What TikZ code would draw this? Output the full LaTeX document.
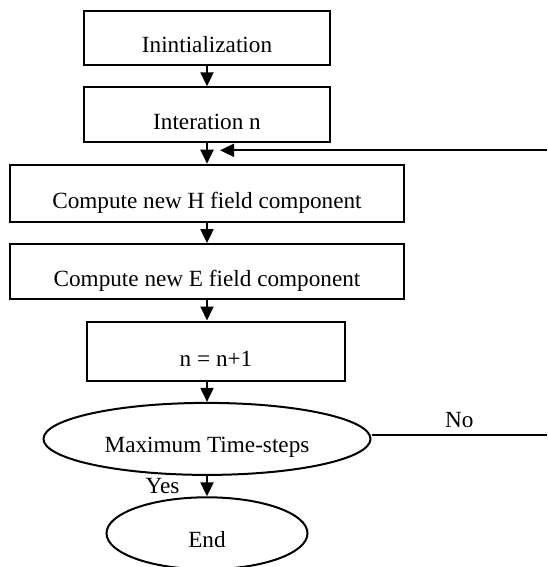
\documentclass[tikz,border=0pt]{standalone}
\usepackage{fontspec}
\setmainfont{Liberation Serif}
\usetikzlibrary{matrix,arrows.meta,shapes.geometric}

\begin{document}
\begin{tikzpicture}[x=0.5pt, y=-0.5pt, font=\fontsize{11.6}{14}\selectfont,
  blk/.style={draw, line width=1pt, rectangle, inner sep=0pt, text height=16.5pt, text depth=1.5pt},
  term/.style={draw, line width=1pt, ellipse, inner sep=0pt, text height=16pt, text depth=2pt},
  flow/.style={-{Triangle[length=7pt,width=6.5pt]}, line width=1pt}]
  \useasboundingbox (0,0) rectangle (547,567);
  \matrix (m) at (207,9.5) [matrix of nodes, anchor=north, inner sep=0pt, row sep=10.2pt]
  {
    |[blk, minimum width=123pt, minimum height=27pt]| Inintialization \\
    |[blk, minimum width=123pt, minimum height=27.5pt]| Interation n \\
    |[blk, minimum width=196.5pt, minimum height=28.5pt]| Compute new H field component \\
    |[blk, minimum width=196.5pt, minimum height=27.5pt]| Compute new E field component \\
    |[blk, minimum width=128.5pt, minimum height=29.5pt, xshift=4.5pt]| n = n+1 \\
    |[term, minimum width=163.5pt, minimum height=36pt]| Maximum Time-steps \\
    |[term, minimum width=100.5pt, minimum height=36pt]| End \\
  };
  \coordinate (edge) at (547,0);
  \coordinate (join) at ([xshift=6.5pt,yshift=-3.5pt]m-2-1.south);
  \path[flow]
  (m-1-1) edge (m-2-1)
  (m-2-1) edge (m-3-1)
  (m-3-1) edge (m-4-1)
  (m-4-1.south) edge (m-4-1.south |- m-5-1.north)
  (m-5-1.south -| m-6-1) edge (m-6-1)
  (m-6-1) edge node [left=10pt] {Yes} (m-7-1)
  ;
  \draw[flow] (join -| edge) -- (join);
  \draw[line width=1pt] ([yshift=2pt]m-6-1.east) -- ([yshift=2pt]m-6-1.east -| edge) node [midway, above] {No};
\end{tikzpicture}
\end{document}
